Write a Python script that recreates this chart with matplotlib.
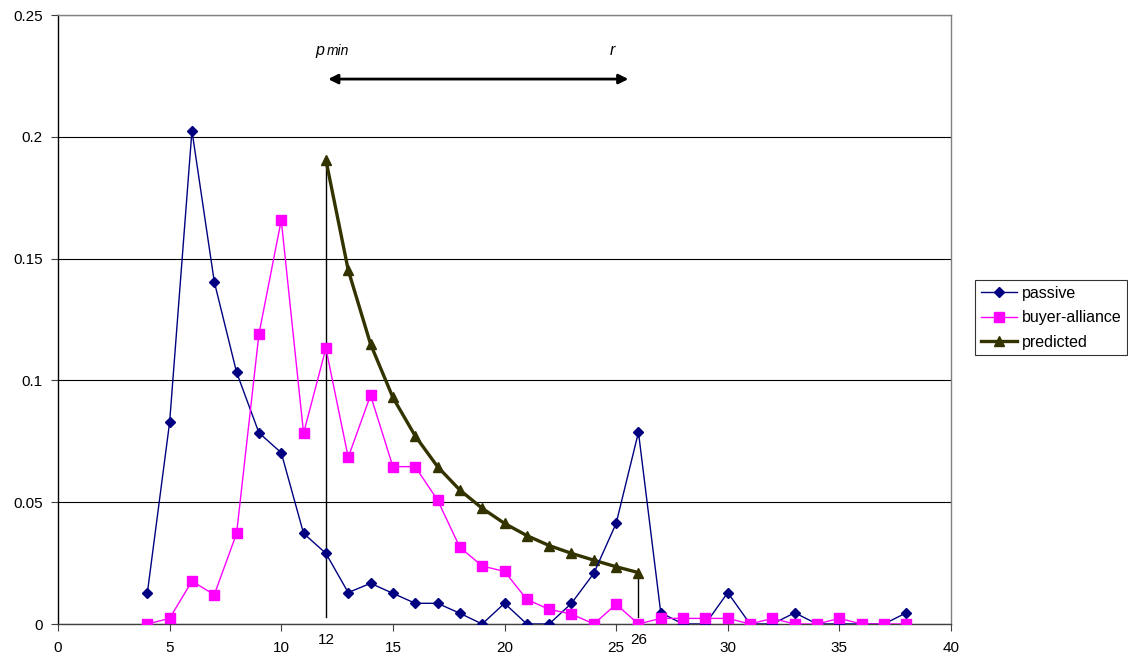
import matplotlib
matplotlib.use("Agg")
import matplotlib.pyplot as plt

plt.rcParams['font.family'] = ['Liberation Sans', 'DejaVu Sans']
plt.rcParams['font.size'] = 11

x_passive = list(range(4, 39))
passive = [0.0126, 0.0828, 0.2025, 0.1405, 0.1033, 0.0785, 0.0703, 0.0372, 0.0290,
           0.0129, 0.0167, 0.0126, 0.0085, 0.0085, 0.0044, 0.0, 0.0085, 0.0, 0.0,
           0.0085, 0.0208, 0.0413, 0.0787, 0.0046, 0.0, 0.0, 0.0129, 0.0, 0.0,
           0.0046, 0.0, 0.0, 0.0, 0.0, 0.0046]
x_buyer = list(range(4, 39))
buyer = [0.0, 0.0023, 0.0176, 0.0120, 0.0372, 0.1190, 0.1658, 0.0783, 0.1132,
         0.0684, 0.0939, 0.0646, 0.0646, 0.0509, 0.0315, 0.0238, 0.0216, 0.0101,
         0.0060, 0.0041, 0.0, 0.0081, 0.0, 0.0023, 0.0023, 0.0023, 0.0023, 0.0,
         0.0023, 0.0, 0.0, 0.0023, 0.0, 0.0, 0.0]
x_pred = list(range(12, 27))
predicted = [0.1905, 0.1453, 0.1149, 0.0930, 0.0772, 0.0646, 0.0550, 0.0475,
             0.0413, 0.0363, 0.0322, 0.0290, 0.0262, 0.0235, 0.0211]

xticks = [0, 5, 10, 15, 20, 25, 30, 35, 40]
yticks = [0, 0.05, 0.1, 0.15, 0.2, 0.25]
ytick_labels = ["0", "0.05", "0.1", "0.15", "0.2", "0.25"]
range_marks = [12, 26]
range_start, range_end = 12.1, 25.55

fig = plt.figure(figsize=(11.28, 6.62), dpi=100)
ax = fig.add_axes([58/1128, 1-624/662, (951-58)/1128, (624-15)/662])

ax.set_xlim(0, 40)
ax.set_ylim(0, 0.25)

ax.grid(axis='y', color='black', linewidth=0.8)
ax.set_axisbelow(True)

lp, = ax.plot(x_passive, passive, color='#000080', marker='D', markersize=5.5,
              linewidth=1.0, zorder=4, label='passive')
lb, = ax.plot(x_buyer, buyer, color='#FF00FF', marker='s', markersize=6.5,
              linewidth=1.0, zorder=5, label='buyer-alliance')
lpr, = ax.plot(x_pred, predicted, color='#333300', marker='^', markersize=7,
               linewidth=2.4, zorder=3, label='predicted')

# vertical marker lines at 12 and 26
for xm in range_marks:
    yv = predicted[x_pred.index(xm)]
    ax.plot([xm, xm], [0.003, yv], color='black', linewidth=1.0, zorder=2)
    ax.text(xm, -0.0035, str(xm), ha='center', va='top', fontsize=11,
            clip_on=False)

# double arrow
ax.annotate('', xy=(range_end, 0.2237), xytext=(range_start, 0.2237),
            arrowprops=dict(arrowstyle='<|-|>', color='black', lw=2.0,
                            mutation_scale=14, shrinkA=0, shrinkB=0))
ax.text(11.55, 0.2335, 'p', fontsize=11.5, style='italic', ha='left', va='baseline')
ax.text(12.05, 0.2335, 'min', fontsize=10, style='italic', ha='left', va='baseline')
ax.text(24.7, 0.2335, 'r', fontsize=11.5, style='italic', ha='left', va='baseline')

ax.set_xticks(xticks)
ax.set_xticklabels([str(t) for t in xticks])
ax.set_yticks(yticks)
ax.set_yticklabels(ytick_labels)
ax.tick_params(axis='both', direction='out', length=5, width=0.8, labelsize=11,
               color='#404040')
ax.tick_params(axis='x', pad=7)
ax.tick_params(axis='y', pad=6)

ax.spines['left'].set_color('black')
ax.spines['bottom'].set_color('#404040')
ax.spines['top'].set_color('#808080')
ax.spines['right'].set_color('#808080')
for s in ax.spines.values():
    s.set_linewidth(1.0)

leg = fig.legend(handles=[lp, lb, lpr], loc='upper left',
                 bbox_to_anchor=(975/1128, 1-280/662), frameon=True,
                 fancybox=False, edgecolor='black', fontsize=11.5,
                 borderpad=0.35, labelspacing=0.6, handlelength=2.3,
                 handletextpad=0.3, borderaxespad=0)
leg.get_frame().set_linewidth(0.8)

fig.savefig('out.png', dpi=100)
